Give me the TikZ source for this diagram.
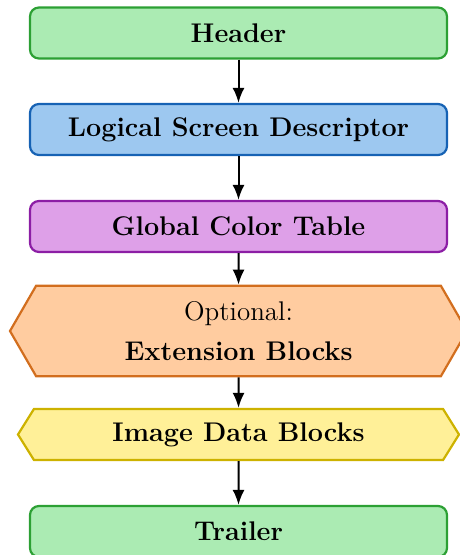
\documentclass[tikz,border=0pt]{standalone}
\usepackage{tikz}
\usetikzlibrary{shapes.symbols}
\usetikzlibrary{arrows.meta}
\tikzset{>={Latex[length=7.5pt, width=6pt]}}
\definecolor{hdrfill}{RGB}{171,235,179}
\definecolor{hdrline}{RGB}{44,160,52}
\definecolor{lsdfill}{RGB}{157,200,240}
\definecolor{lsdline}{RGB}{22,98,180}
\definecolor{gctfill}{RGB}{222,160,232}
\definecolor{gctline}{RGB}{140,30,165}
\definecolor{extfill}{RGB}{255,204,160}
\definecolor{extline}{RGB}{210,110,30}
\definecolor{imgfill}{RGB}{255,240,152}
\definecolor{imgline}{RGB}{205,178,0}
\tikzstyle{blk} = [rectangle, rounded corners=4.5pt, line width=1.1pt, minimum width=208.5pt, minimum height=25.5pt, font=\fontsize{13.5}{16}\selectfont\bfseries]
\tikzstyle{hex} = [signal, signal to=west and east, line width=1.1pt, font=\fontsize{13.5}{16}\selectfont]

\begin{document}
\begin{tikzpicture}[x=0.5pt, y=-0.5pt]
\useasboundingbox (0, 0) rectangle (459, 555);
\node [blk, fill=hdrfill, draw=hdrline] (Hdr) at (238.5, 33) {Header};
\node [blk, fill=lsdfill, draw=lsdline] (LSD) at (238.5, 129.5) {Logical Screen Descriptor};
\node [blk, fill=gctfill, draw=gctline] (GCT) at (238.5, 226.5) {Global Color Table};
\node [hex, fill=extfill, draw=extline, minimum width=228.5pt, minimum height=45.25pt, signal pointer angle=120, align=center] (Ext) at (238.5, 331) {Optional:\\[4pt]\textbf{Extension Blocks}};
\node [hex, fill=imgfill, draw=imgline, minimum width=220.5pt, minimum height=25.5pt, signal pointer angle=116, font=\fontsize{13.5}{16}\selectfont\bfseries] (Img) at (238.5, 434.5) {Image Data Blocks};
\node [blk, fill=hdrfill, draw=hdrline] (Trl) at (238.5, 531.5) {Trailer};

\draw [->, line width=1pt, draw=black] (Hdr) to (LSD);
\draw [->, line width=1pt, draw=black] (LSD) to (GCT);
\draw [->, line width=1pt, draw=black] (GCT) to (Ext);
\draw [->, line width=1pt, draw=black] (Ext) to (Img);
\draw [->, line width=1pt, draw=black] (Img) to (Trl);
\end{tikzpicture}
\end{document}
